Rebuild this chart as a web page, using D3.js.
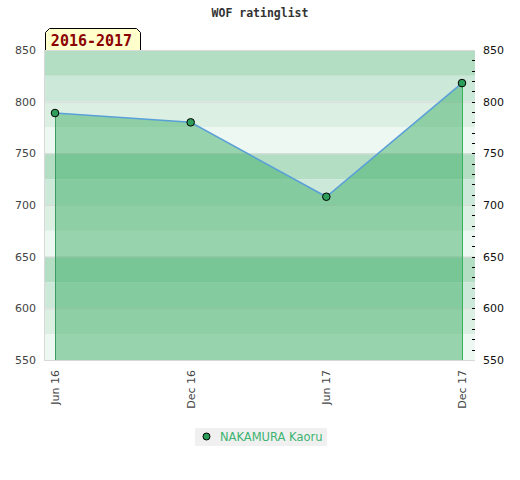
<!DOCTYPE html>
<html>
<head>
<meta charset="utf-8">
<script src="https://cdn.jsdelivr.net/npm/d3@7"></script>
<style>
  html, body { margin: 0; padding: 0; background: #fff; }
  svg { display: block; }
</style>
</head>
<body>
<svg id="chart" width="520" height="480"></svg>
<script>
const categories = ["Jun 16", "Dec 16", "Jun 17", "Dec 17"];
const ratings = [789, 780, 708, 818];
const yTicks = [550, 600, 650, 700, 750, 800, 850];
const seriesName = "NAKAMURA Kaoru";
const periodLabel = "2016-2017";
const title = "WOF ratinglist";

const svg = d3.select("#chart");
const plot = { left: 45, right: 475, top: 50, bottom: 360 };

const y = d3.scaleLinear().domain([550, 850]).range([plot.bottom, plot.top]);
const x = d3.scalePoint().domain(categories).range([55, 462]);

// background bands (25-unit, repeating 4 shades)
const bandColors = ["#b3dec4", "#cce8d8", "#dcefe3", "#eef8f2"];
const bands = d3.range(850, 550, -25);
svg.append("g").selectAll("rect").data(bands).join("rect")
  .attr("x", plot.left).attr("width", plot.right - plot.left)
  .attr("y", d => y(d)).attr("height", d => y(d - 25) - y(d))
  .attr("fill", (d, i) => bandColors[i % 4]);

// grid lines at major ticks
svg.append("g").selectAll("line").data(yTicks).join("line")
  .attr("x1", plot.left).attr("x2", plot.right)
  .attr("y1", d => y(d) + 0.5).attr("y2", d => y(d) + 0.5)
  .attr("stroke", "#dadada").attr("stroke-width", 1);

// plot border left/bottom
svg.append("line").attr("x1", plot.left - 0.5).attr("x2", plot.left - 0.5)
  .attr("y1", plot.top).attr("y2", plot.bottom + 1).attr("stroke", "#d8d8d8");
svg.append("line").attr("x1", plot.left).attr("x2", plot.right)
  .attr("y1", plot.bottom + 0.5).attr("y2", plot.bottom + 0.5).attr("stroke", "#d8d8d8");

const data = categories.map((c, i) => ({ c, v: ratings[i] }));

// area fill
const area = d3.area().x(d => x(d.c)).y0(plot.bottom).y1(d => y(d.v));
svg.append("path").datum(data).attr("d", area)
  .attr("fill", "rgb(56,172,98)").attr("fill-opacity", 0.48);

// vertical edges
svg.append("line").attr("x1", x(categories[0]) + 0.5).attr("x2", x(categories[0]) + 0.5)
  .attr("y1", y(ratings[0])).attr("y2", plot.bottom)
  .attr("stroke", "#3d9a62").attr("stroke-width", 1);
const last = categories.length - 1;
svg.append("line").attr("x1", x(categories[last]) + 0.5).attr("x2", x(categories[last]) + 0.5)
  .attr("y1", y(ratings[last])).attr("y2", plot.bottom)
  .attr("stroke", "#36b35e").attr("stroke-width", 1);

// line
const line = d3.line().x(d => x(d.c)).y(d => y(d.v));
svg.append("path").datum(data).attr("d", line)
  .attr("fill", "none").attr("stroke", "#5aa0d8").attr("stroke-width", 1.5);

// points
svg.append("g").selectAll("circle").data(data).join("circle")
  .attr("cx", d => x(d.c)).attr("cy", d => y(d.v)).attr("r", 3.8)
  .attr("fill", "#2e9e5b").attr("stroke", "#000").attr("stroke-width", 1);

// left axis labels
const font = "DejaVu Sans, Verdana, sans-serif";
svg.append("g").selectAll("text").data(yTicks).join("text")
  .attr("x", 36).attr("y", d => y(d) + 4)
  .attr("text-anchor", "end").attr("font-family", font).attr("font-size", 11)
  .attr("fill", "#444").text(d => d);

// right axis labels
svg.append("g").selectAll("text").data(yTicks).join("text")
  .attr("x", 483).attr("y", d => y(d) + 4)
  .attr("text-anchor", "start").attr("font-family", font).attr("font-size", 11)
  .attr("fill", "#111").text(d => d);

// right minor ticks (every 10)
const minor = d3.range(560, 850, 10);
svg.append("g").selectAll("line").data(minor).join("line")
  .attr("x1", 472).attr("x2", 475)
  .attr("y1", d => Math.round(y(d)) + 0.5).attr("y2", d => Math.round(y(d)) + 0.5)
  .attr("stroke", "#000").attr("stroke-width", 1);

// x labels rotated
svg.append("g").selectAll("text").data(categories).join("text")
  .attr("transform", d => `translate(${x(d) + 4},370) rotate(-90)`)
  .attr("text-anchor", "end").attr("font-family", font).attr("font-size", 11)
  .attr("fill", "#444").text(d => d);

// title
svg.append("text").attr("x", 260).attr("y", 17).attr("text-anchor", "middle")
  .attr("font-family", "DejaVu Sans Mono, monospace").attr("font-weight", "bold")
  .attr("font-size", 11.5).attr("fill", "#333").text(title);

// period label box with chamfered top corners
const bx0 = 45.5, bx1 = 140.5, by0 = 28.5, by1 = 50, ch = 4;
svg.append("path")
  .attr("d", `M${bx0},${by1} L${bx0},${by0 + ch} L${bx0 + ch},${by0} L${bx1 - ch},${by0} L${bx1},${by0 + ch} L${bx1},${by1}`)
  .attr("fill", "#ffffcc").attr("stroke", "#000").attr("stroke-width", 1);
svg.append("text").attr("x", 91.5).attr("y", 46).attr("text-anchor", "middle")
  .attr("font-family", "DejaVu Sans Mono, monospace").attr("font-weight", "bold")
  .attr("font-size", 15).attr("fill", "#8b0000").text(periodLabel);

// legend
const lg = svg.append("g");
lg.append("rect").attr("x", 195).attr("y", 428).attr("width", 132).attr("height", 18)
  .attr("fill", "#f0f0f0");
lg.append("circle").attr("cx", 206.5).attr("cy", 436.5).attr("r", 3.5)
  .attr("fill", "#2e9e5b").attr("stroke", "#000").attr("stroke-width", 1);
lg.append("text").attr("x", 220).attr("y", 441).attr("font-family", font)
  .attr("font-size", 11.5).attr("fill", "#3cb371").text(seriesName);
</script>
</body>
</html>
